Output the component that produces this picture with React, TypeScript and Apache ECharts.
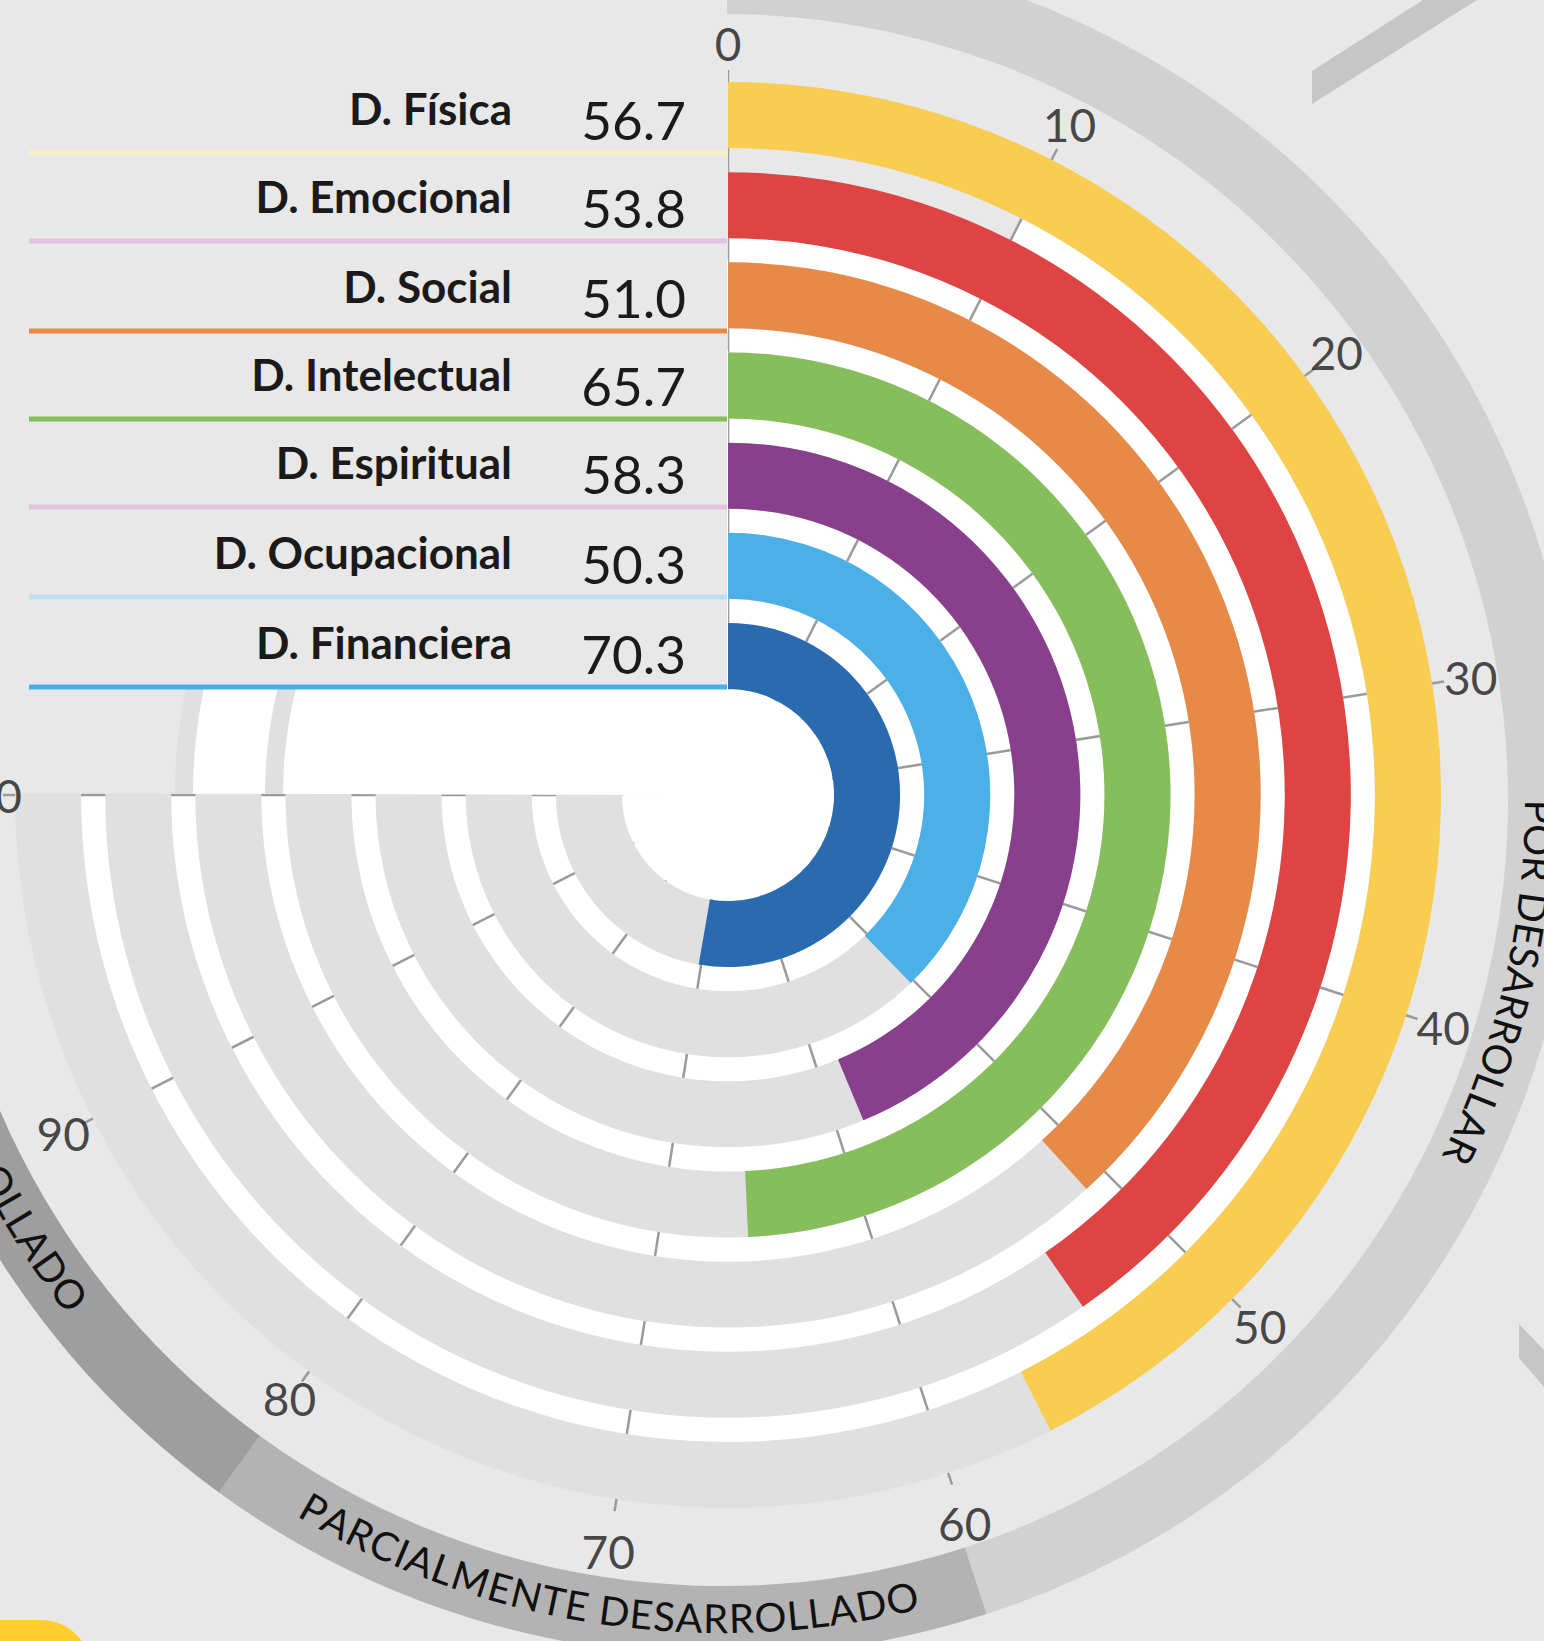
import React, { useEffect, useRef } from 'react';
import * as echarts from 'echarts';

// ---------- data ----------
const categories = ['D. Física', 'D. Emocional', 'D. Social', 'D. Intelectual', 'D. Espiritual', 'D. Ocupacional', 'D. Financiera'];
const values = [56.7, 53.8, 51.0, 65.7, 58.3, 50.3, 70.3];
const barColors = ['#F8CD52', '#DE4443', '#E88A47', '#86BE5C', '#88408D', '#4BAFE8', '#2A6BAF'];
const underlineColors = ['#FCEFC8', '#E3C4DE', '#E88A47', '#86BE5C', '#E3C4DE', '#BCDFF4', '#4AAFE8'];
const angleTicks = [0, 10, 20, 30, 40, 50, 60, 70, 80, 90, 100];
const SCALE_MIN = 0;
const SCALE_MAX = 100;
const zoneNames = ['POR DESARROLLAR', 'PARCIALMENTE DESARROLLADO', 'DESARROLLADO'];
const zoneStarts = [0, 60, 80];
const zoneEnds = [60, 80, 100];
const zoneColors = ['#D1D1D1', '#B3B3B3', '#9E9E9E'];

// ---------- layout ----------
const W = 1544;
const H = 1641;
const CX = 728;
const CY = 795;
const R_INNER = 94;
const R_OUTER = 725;
const BAR_W = 66;
const HOLE_R = 105.5;
const BG = '#E8E8E8';
const TRACK = '#E0E0E0';
const SWEEP = 270; // degrees covered by the 0..100 scale
const BAND_CX = 722;
const BAND_CY = 800;
const BAND_R0 = 786;
const BAND_R1 = 856;
const ZONE_TEXT_R = 818;
const zoneTextCenters = [38.2, 69.8, 90];
const zoneTextOutward = [true, false, false];
const ROW_LINE_Y = [153, 241, 331, 419, 507, 597, 687];
const PANEL_BOTTOM = 687;
const LABEL_RIGHT = 512;
const VALUE_RIGHT = 686;
const FONT = 'Lato, "Open Sans", sans-serif';

const toRad = (d: number) => (d * Math.PI) / 180;
const unitToDeg = (v: number) => (v * SWEEP) / (SCALE_MAX - SCALE_MIN); // clockwise from 12 o'clock
const zrAngle = (v: number) => toRad(unitToDeg(v) - 90);
const tickLabelR = (v: number) => (v < 60 ? 752 : v <= 70 ? 766 : 746);

function arcChars(text: string, centerValue: number, r: number, outward: boolean, font: string, spacing: number) {
  const ctx = document.createElement('canvas').getContext('2d') as CanvasRenderingContext2D;
  ctx.font = font;
  const chars = Array.from(text);
  const widths = chars.map((c) => ctx.measureText(c).width + spacing);
  const total = widths.reduce((a, b) => a + b, 0);
  let s = -total / 2;
  const centerDeg = unitToDeg(centerValue);
  const out: any[] = [];
  chars.forEach((ch, i) => {
    const mid = s + widths[i] / 2;
    s += widths[i];
    if (ch === ' ') return;
    const deg = centerDeg + (outward ? 1 : -1) * (mid / r) * (180 / Math.PI);
    const rad = toRad(deg);
    out.push({
      type: 'text',
      x: BAND_CX + r * Math.sin(rad),
      y: BAND_CY - r * Math.cos(rad),
      rotation: outward ? -rad : toRad(180 - deg),
      z: 5,
      silent: true,
      style: { text: ch, fill: '#111111', font, align: 'center', verticalAlign: 'middle' },
    });
  });
  return out;
}

function quadrantSector(r0: number, r: number, fill: string, z: number) {
  return {
    type: 'sector', z, silent: true,
    shape: { cx: CX, cy: CY, r0, r, startAngle: Math.PI + 0.0025, endAngle: Math.PI * 1.5, clockwise: true },
    style: { fill },
  };
}

function buildOption(): any {
  const graphics: any[] = [];
  // white disc under the 270° part
  graphics.push({
    type: 'sector', z: -20, silent: true,
    shape: { cx: CX, cy: CY, r0: 0, r: 650, startAngle: zrAngle(0), endAngle: zrAngle(100), clockwise: true },
    style: { fill: '#FFFFFF' },
  });
  graphics.push({
    type: 'sector', z: -19, silent: true,
    shape: { cx: CX, cy: CY, r0: 619, r: 650, startAngle: zrAngle(0), endAngle: zrAngle(10), clockwise: true },
    style: { fill: BG },
  });
  // upper-left quadrant (beyond 100): covers the bar backgrounds there
  graphics.push(quadrantSector(0, 760, BG, 3));
  graphics.push(quadrantSector(0, 536, '#FFFFFF', 3.1));
  graphics.push(quadrantSector(535, 553, TRACK, 3.2));
  graphics.push(quadrantSector(445, 463, TRACK, 3.2));
  // hole in the middle, above the split lines
  graphics.push({
    type: 'circle', z: 1, silent: true,
    shape: { cx: CX, cy: CY, r: HOLE_R },
    style: { fill: '#FFFFFF' },
  });
  // zone bands
  zoneNames.forEach((_, i) => {
    graphics.push({
      type: 'sector', z: -10, silent: true,
      shape: { cx: BAND_CX, cy: BAND_CY, r0: BAND_R0, r: BAND_R1, startAngle: zrAngle(zoneStarts[i]), endAngle: zrAngle(zoneEnds[i]), clockwise: true },
      style: { fill: zoneColors[i] },
    });
  });
  zoneNames.forEach((name, i) => {
    graphics.push(...arcChars(name, zoneTextCenters[i], ZONE_TEXT_R, zoneTextOutward[i], `40px ${FONT}`, 0.5));
  });
  // decorations
  graphics.push({
    type: 'polygon', z: -10, silent: true,
    shape: { points: [[1312, 71], [1312, 104], [1477, 0], [1423, 0]] },
    style: { fill: '#C6C6C6' },
  });
  graphics.push({
    type: 'polygon', z: -10, silent: true,
    shape: { points: [[1519, 1324], [1519, 1358], [1544, 1387], [1544, 1350]] },
    style: { fill: '#C6C6C6' },
  });
  graphics.push({
    type: 'rect', z: -10, silent: true,
    shape: { x: -200, y: 1620, width: 291, height: 150, r: 50 },
    style: { fill: '#FFCE2C' },
  });
  // label panel
  graphics.push({
    type: 'rect', z: 50, silent: true,
    shape: { x: 0, y: 0, width: CX - 1, height: PANEL_BOTTOM },
    style: { fill: BG },
  });
  categories.forEach((name, i) => {
    const ly = ROW_LINE_Y[i];
    graphics.push({
      type: 'line', z: 51, silent: true,
      shape: { x1: 29, y1: ly, x2: CX - 1, y2: ly },
      style: { stroke: underlineColors[i], lineWidth: 5 },
    });
    graphics.push({
      type: 'text', z: 52, silent: true, x: LABEL_RIGHT, y: ly - 45,
      style: { text: name, fill: '#1A1A1A', font: `bold 44px ${FONT}`, align: 'right', verticalAlign: 'middle' },
    });
    graphics.push({
      type: 'text', z: 52, silent: true, x: VALUE_RIGHT, y: ly - 34,
      style: { text: values[i].toFixed(1), fill: '#1A1A1A', font: `53px ${FONT}`, align: 'right', verticalAlign: 'middle' },
    });
  });

  return {
    animation: false,
    backgroundColor: BG,
    polar: [
      { center: [CX, CY], radius: [R_INNER, R_OUTER] },
      { center: [CX, CY], radius: [0, 1000] },
    ],
    angleAxis: [
      {
        polarIndex: 0, type: 'value', min: SCALE_MIN, max: SCALE_MAX, interval: 10,
        startAngle: 90, endAngle: 90 - SWEEP, clockwise: true,
        axisLine: { show: false }, axisTick: { show: false }, axisLabel: { show: false },
        splitLine: { show: true, lineStyle: { color: '#9A9A9A', width: 2.5 } },
      },
      {
        polarIndex: 1, type: 'value', min: SCALE_MIN, max: SCALE_MAX,
        startAngle: 90, endAngle: 90 - SWEEP, clockwise: true, show: false,
      },
    ],
    radiusAxis: [
      {
        polarIndex: 0, type: 'category', data: categories, inverse: true,
        axisLine: { show: false }, axisTick: { show: false }, axisLabel: { show: false }, splitLine: { show: false },
      },
      { polarIndex: 1, type: 'value', min: 0, max: 1000, show: false },
    ],
    series: [
      {
        name: 'valor',
        type: 'bar',
        coordinateSystem: 'polar',
        polarIndex: 0,
        barWidth: BAR_W,
        z: 2,
        silent: true,
        showBackground: true,
        backgroundStyle: { color: TRACK },
        data: values.map((v, i) => ({ value: v, itemStyle: { color: barColors[i] } })),
      },
      {
        type: 'scatter',
        coordinateSystem: 'polar',
        polarIndex: 1,
        symbolSize: 1,
        silent: true,
        z: 60,
        itemStyle: { color: 'rgba(0,0,0,0)' },
        data: angleTicks.map((v) => [tickLabelR(v), v]),
        label: {
          show: true,
          position: 'inside',
          formatter: (p: any) => String(p.value[1]),
          fontSize: 46,
          fontFamily: FONT,
          color: '#1A1A1A',
        },
      },
    ],
    graphic: { elements: graphics },
  };
}

export default function App() {
  const ref = useRef<HTMLDivElement>(null);
  useEffect(() => {
    document.body.style.margin = '0';
    document.body.style.overflow = 'hidden';
    const chart = echarts.init(ref.current as HTMLDivElement, null, { renderer: 'svg' });
    chart.setOption(buildOption());
    return () => chart.dispose();
  }, []);
  return <div ref={ref} style={{ position: 'absolute', left: 0, top: 0, width: W, height: H }} />;
}
